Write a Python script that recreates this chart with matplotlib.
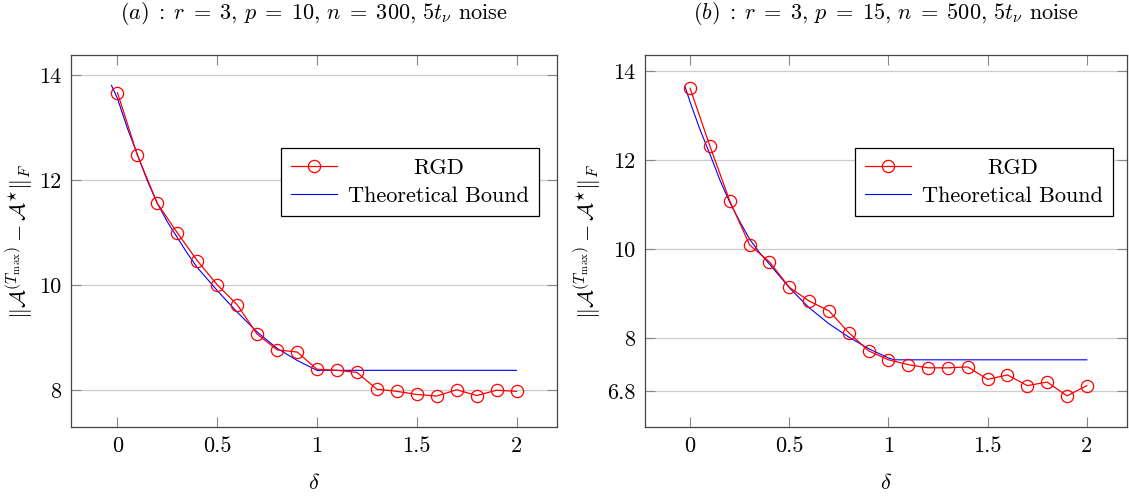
import numpy as np
import matplotlib
matplotlib.use("Agg")
import matplotlib.pyplot as plt

plt.rcParams['font.family'] = 'serif'
plt.rcParams['font.serif'] = ['cmr10']
plt.rcParams['mathtext.fontset'] = 'cm'
plt.rcParams['axes.formatter.use_mathtext'] = True
plt.rcParams['font.size'] = 16

# delta grid for RGD
delta = [0.0, 0.1, 0.2, 0.3, 0.4, 0.5, 0.6, 0.7, 0.8, 0.9, 1.0,
         1.1, 1.2, 1.3, 1.4, 1.5, 1.6, 1.7, 1.8, 1.9, 2.0]

# panel (a)
rgd_a = [13.66, 12.47, 11.55, 10.99, 10.46, 10.00, 9.62, 9.06, 8.76, 8.72, 8.39,
         8.37, 8.33, 8.01, 7.97, 7.91, 7.88, 8.00, 7.89, 7.99, 7.97]
bound_a_x = [-0.03, 0.0, 0.05, 0.1, 0.15, 0.2, 0.25, 0.3, 0.35, 0.4, 0.5,
             0.6, 0.7, 0.8, 0.9, 1.0, 2.0]
bound_a_y = [13.80, 13.55, 12.98, 12.48, 11.98, 11.55, 11.20, 10.90, 10.60, 10.33, 9.89,
             9.48, 9.10, 8.79, 8.56, 8.37, 8.37]

# panel (b)
rgd_b = [13.61, 12.31, 11.08, 10.09, 9.71, 9.14, 8.83, 8.61, 8.12, 7.71, 7.51,
         7.40, 7.33, 7.33, 7.35, 7.07, 7.17, 6.93, 7.01, 6.70, 6.93]
bound_b_x = [-0.025, 0.0, 0.05, 0.1, 0.15, 0.2, 0.25, 0.3, 0.35, 0.4, 0.5,
             0.6, 0.7, 0.8, 0.9, 1.0, 1.03, 2.0]
bound_b_y = [13.64, 13.30, 12.68, 12.13, 11.55, 11.05, 10.62, 10.22, 9.92, 9.66, 9.13,
             8.68, 8.32, 8.02, 7.76, 7.55, 7.51, 7.51]

titles = [r'$(a)\; :\; r\;=\;3,\, p\;=\;10,\, n\;=\;300,\, 5t_\nu$ noise',
          r'$(b)\; :\; r\;=\;3,\, p\;=\;15,\, n\;=\;500,\, 5t_\nu$ noise']
yticks_a = [8, 10, 12, 14]
yticks_b = [6.8, 8, 10, 12, 14]
xticks = [0, 0.5, 1, 1.5, 2]

fig = plt.figure(figsize=(11.29, 4.96), dpi=100)
W, H = 1129, 496
ax1 = fig.add_axes([71 / W, 69 / H, 486 / W, 372 / H])
ax2 = fig.add_axes([645 / W, 69 / H, 482 / W, 372 / H])

panels = [
    (ax1, rgd_a, bound_a_x, bound_a_y, titles[0], yticks_a, (-0.233, 2.203), (7.29, 14.38), 0.963),
    (ax2, rgd_b, bound_b_x, bound_b_y, titles[1], yticks_b, (-0.2275, 2.2025), (6.0, 14.36), 0.971),
]

legends = []
for ax, rgd, bx, by, title, yt, xl, yl, lx in panels:
    ax.plot(delta, rgd, color='red', lw=0.9, marker='o', ms=8.8,
            mfc='none', mec='red', mew=0.9, label='RGD', zorder=3)
    ax.plot(bx, by, color='blue', lw=0.8, label='Theoretical Bound', zorder=2)
    ax.set_xlim(*xl)
    ax.set_ylim(*yl)
    ax.set_xticks(xticks)
    ax.set_xticklabels(['0', '0.5', '1', '1.5', '2'])
    ax.set_yticks(yt)
    ax.set_yticklabels([('%g' % v) for v in yt])
    ax.grid(axis='y', color='#cccccc', lw=0.9)
    ax.set_axisbelow(True)
    ax.tick_params(direction='in', length=7, width=0.8, color='#888888',
                   top=True, right=True, pad=7)
    for s in ax.spines.values():
        s.set_color('#444444')
        s.set_linewidth(0.9)
    ax.set_title(title, pad=26, fontsize=16)
    ax.set_xlabel(r'$\delta$', labelpad=12)
    ax.set_ylabel(r'$\|\mathcal{A}^{(T_{\max})} - \mathcal{A}^{\star}\|_F$', labelpad=3)
    leg = ax.legend(loc='upper right', bbox_to_anchor=(lx, 0.75), fancybox=False,
                    edgecolor='black', framealpha=1, handlelength=2.05,
                    borderpad=0.45, labelspacing=0.4, handletextpad=0.5,
                    borderaxespad=0)
    leg.get_frame().set_linewidth(0.9)
    legends.append(leg)

# centre the shorter legend entry like the original
fig.canvas.draw()
for leg in legends:
    t1, t2 = leg.get_texts()
    w1 = t1.get_window_extent().width
    w2 = t2.get_window_extent().width
    t1.set_x((w2 - w1) / 2)

fig.savefig('out.png', dpi=100)
